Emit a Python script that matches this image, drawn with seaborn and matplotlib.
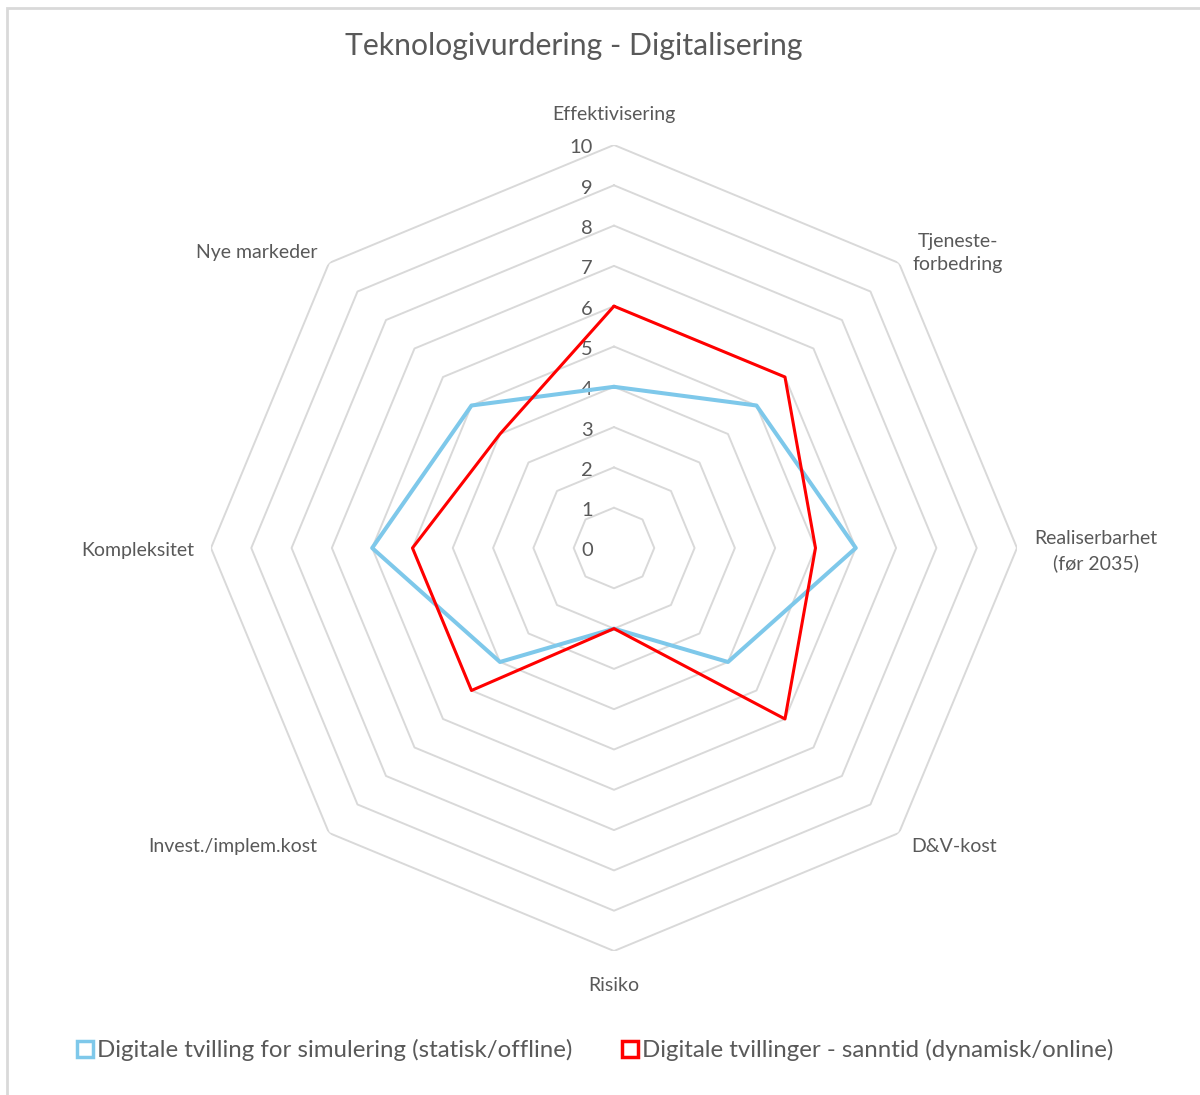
import numpy as np
import pandas as pd
import seaborn as sns
from matplotlib import pyplot as plt
from matplotlib.lines import Line2D
from matplotlib.patches import Rectangle

categories = ['Effektivisering', 'Tjeneste-\nforbedring', 'Realiserbarhet\n(før 2035)', 'D&V-kost',
              'Risiko', 'Invest./implem.kost', 'Kompleksitet', 'Nye markeder']
series_names = ['Digitale tvilling for simulering (statisk/offline)',
                'Digitale tvillinger - sanntid (dynamisk/online)']
simulering = [4, 5, 6, 4, 2, 4, 6, 5]
sanntid = [6, 6, 5, 6, 2, 5, 5, 4]
levels = list(range(0, 11))

colors = {series_names[0]: '#7EC8EA', series_names[1]: '#FF0000'}
widths = {series_names[0]: 2.9, series_names[1]: 2.2}
GRAY = '#595959'
GRID = '#D9D9D9'

# label offsets in pixels from the outer vertex, with alignment
label_pos = [((0, 30), 'center'), ((14, 10), 'left'), ((17, -3), 'left'), ((12, -14), 'left'),
             ((0, -34), 'center'), ((-12, -14), 'right'), ((-17, -3), 'right'), ((-12, 11), 'right')]


def build_frame():
    n = len(categories)
    angles = np.linspace(0, 2 * np.pi, n, endpoint=False).tolist() + [2 * np.pi]
    rows = []
    for name, vals in zip(series_names, [simulering, sanntid]):
        for a, v in zip(angles, vals + vals[:1]):
            rows.append({'angle': a, 'value': v, 'series': name})
    return pd.DataFrame(rows), angles


def draw_grid(ax, angles):
    for r in levels[1:]:
        ax.plot(angles, [r] * len(angles), color=GRID, lw=1.4, zorder=1)
    for r in levels:
        ax.annotate(str(r), xy=(0, r), xytext=(-21, -3), textcoords='offset pixels',
                    ha='right', va='center', fontsize=14.5, color=GRAY)


def draw_labels(ax, angles):
    for cat, a, (off, ha) in zip(categories, angles, label_pos):
        ax.annotate(cat, xy=(a, 10), xytext=off, textcoords='offset pixels',
                    ha=ha, va='center', multialignment='center', fontsize=14,
                    linespacing=1.45, color=GRAY)


sns.set_theme(style='white')
plt.rcParams['font.family'] = ['Lato', 'DejaVu Sans']

fig = plt.figure(figsize=(12, 10.95), dpi=100)
ax = fig.add_axes([0.1758, 0.1315, 0.6717, 0.7361], projection='polar')
ax.set_theta_zero_location('N')
ax.set_theta_direction(-1)

df, angles = build_frame()
draw_grid(ax, angles)
sns.lineplot(data=df, x='angle', y='value', hue='series', sort=False, estimator=None,
             palette=colors, legend=False, ax=ax, zorder=3)
for line, name in zip(ax.lines[-2:], series_names):
    line.set_linewidth(widths[name])

draw_labels(ax, angles)
ax.set_ylim(0, 10)
ax.set_xticks([])
ax.set_yticks([])
ax.grid(False)
ax.spines['polar'].set_visible(False)
ax.set_xlabel('')
ax.set_ylabel('')

fig.text(0.478, 1 - 46 / 1095, 'Teknologivurdering - Digitalisering', ha='center', va='center',
         fontsize=21.7, color=GRAY)

handles = [Line2D([], [], ls='', marker='s', markersize=11, markerfacecolor='white',
                  markeredgecolor=colors[n], markeredgewidth=2.5) for n in series_names]
fig.legend(handles, series_names, loc='center', bbox_to_anchor=(0.495, 1 - 1050 / 1095), ncol=2,
           frameon=False, fontsize=17.3, labelcolor=GRAY, handletextpad=0.1, columnspacing=2.0,
           handlelength=0.8)

fig.patches.append(Rectangle((7 / 1200, -0.05), 1.1, 1.05 - 8 / 1095, transform=fig.transFigure,
                             fill=False, edgecolor=GRID, lw=2))

fig.savefig('out.png', dpi=100)
